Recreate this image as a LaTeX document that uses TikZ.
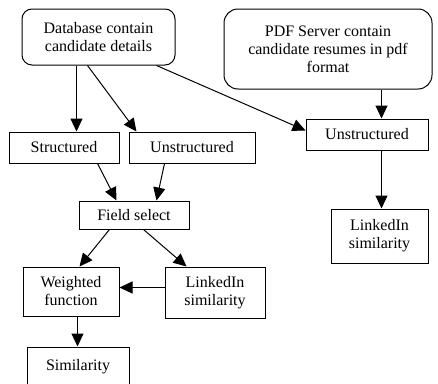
\documentclass[tikz,border=0pt]{standalone}
\usepackage{fontspec}
\setmainfont{Liberation Serif}
\usetikzlibrary{arrows.meta,calc}
\begin{document}
\begin{tikzpicture}[x=1pt,y=-1pt,
  box/.style={draw,line width=1pt,inner sep=0pt,align=center,font=\fontsize{16}{18}\selectfont},
  rbox/.style={box,rounded corners=10pt},
  arr/.style={line width=1pt,-{Triangle[length=13pt,width=12pt]}}]
\useasboundingbox (0,0) rectangle (438,383);
\node[rbox,minimum width=153pt,minimum height=56pt] (db) at (98.5,37) {Database contain\\candidate details};
\node[rbox,rounded corners=14pt,minimum width=208pt,minimum height=80pt] (pdf) at (328,49) {PDF Server contain\\candidate resumes in pdf\\format};
\node[box,minimum width=122pt,minimum height=31pt] (u2) at (367,134.5) {Unstructured};
\node[box,minimum width=110pt,minimum height=31pt] (s) at (64,147.5) {Structured};
\node[box,minimum width=126pt,minimum height=31pt] (u1) at (192,147.5) {Unstructured};
\node[box,minimum width=110pt,minimum height=28pt] (fs) at (134,215) {Field select};
\node[box,minimum width=96pt,minimum height=49pt] (wf) at (71,291.5) {Weighted\\function};
\node[box,minimum width=100pt,minimum height=51pt] (li) at (215,292.5) {LinkedIn\\similarity};
\node[box,minimum width=97pt,minimum height=54pt] (li2) at (379.5,236) {LinkedIn\\similarity};
\node[box,minimum width=102pt,minimum height=40pt] (sim) at (78,367) {Similarity};
\draw[arr] ($(db.south west)+(55,0)$) -- ($(s.north west)+(68,0)$);
\draw[arr] ($(db.south west)+(66,0)$) -- ($(u1.north west)+(8,0)$);
\draw[arr] ($(db.south west)+(135,0)$) -- ($(u2.west)+(0,-4)$);
\draw[arr] ($(pdf.south west)+(158,0)$) -- ($(u2.north west)+(76,0)$);
\draw[arr] ($(u2.south west)+(76,0)$) -- ($(li2.north west)+(51,0)$);
\draw[arr] ($(s.south west)+(89,0)$) -- ($(fs.north west)+(38,0)$);
\draw[arr] ($(u1.south west)+(36,0)$) -- ($(fs.north west)+(78,0)$);
\draw[arr] ($(fs.south west)+(31,0)$) -- ($(wf.north west)+(57,0)$);
\draw[arr] ($(fs.south west)+(65,0)$) -- ($(li.north west)+(22,0)$);
\coordinate (p) at ($(li.west)+(0,-5)$);
\draw[arr] (p) -- (wf.east |- p);
\draw[arr] ($(wf.south west)+(55,0)$) -- ($(sim.north west)+(51,0)$);
\end{tikzpicture}
\end{document}
